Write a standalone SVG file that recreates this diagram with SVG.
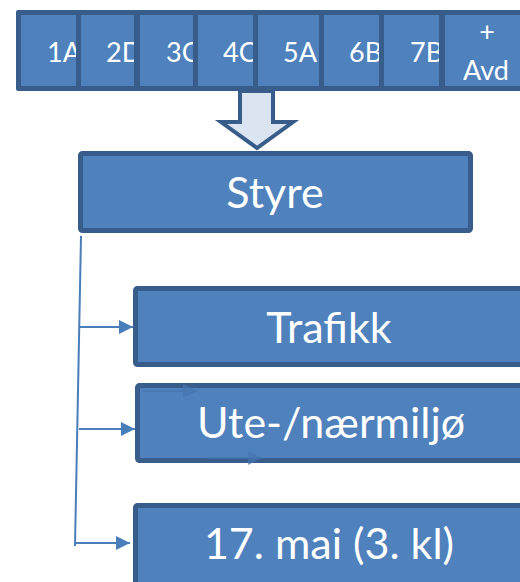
<svg xmlns="http://www.w3.org/2000/svg" width="520" height="582" viewBox="0 0 520 582">
<style>
.cell{fill:#4f81bd}
.ct{font-family:Lato,"Liberation Sans",sans-serif;font-size:27px;fill:#fff}
.box{fill:#4f81bd;stroke:#385d8a;stroke-width:5}
.bt{font-family:Lato,"Liberation Sans",sans-serif;font-size:43px;fill:#fff;text-anchor:middle}
.conn{stroke:#4a7ebb;stroke-width:2;fill:none}
.ghost{stroke:#4676b2;stroke-width:2;fill:none}
</style>
<defs>
<marker id="ah" markerUnits="userSpaceOnUse" markerWidth="14" markerHeight="14" refX="14" refY="7" orient="auto"><path d="M0,0 L14,7 L0,14 z" fill="#4a7ebb"/></marker>
<marker id="gh" markerUnits="userSpaceOnUse" markerWidth="14" markerHeight="14" refX="14" refY="7" orient="auto"><path d="M0,0 L14,7 L0,14 z" fill="#4676b2"/></marker>
<clipPath id="c1"><rect x="21" y="15" width="55" height="71"/></clipPath>
<clipPath id="c2"><rect x="81" y="15" width="53" height="71"/></clipPath>
<clipPath id="c3"><rect x="140" y="15" width="53" height="71"/></clipPath>
<clipPath id="c4"><rect x="198" y="15" width="55" height="71"/></clipPath>
<clipPath id="c5"><rect x="258" y="15" width="61" height="71"/></clipPath>
<clipPath id="c6"><rect x="324" y="15" width="55" height="71"/></clipPath>
<clipPath id="c7"><rect x="384" y="15" width="55" height="71"/></clipPath>
</defs>
<rect width="520" height="582" fill="#fff"/>
<g id="classes">
<rect x="16" y="10" width="520" height="81" rx="2" fill="#385d8a"/>
<g id="c1A"><rect class="cell" x="21" y="15" width="55" height="71"/><text class="ct" x="47" y="62" clip-path="url(#c1)">1A</text></g>
<g id="c2D"><rect class="cell" x="81" y="15" width="53" height="71"/><text class="ct" x="106" y="62" clip-path="url(#c2)">2D</text></g>
<g id="c3C"><rect class="cell" x="140" y="15" width="53" height="71"/><text class="ct" x="166" y="62" clip-path="url(#c3)">3C</text></g>
<g id="c4C"><rect class="cell" x="198" y="15" width="55" height="71"/><text class="ct" x="223" y="62" clip-path="url(#c4)">4C</text></g>
<g id="c5A"><rect class="cell" x="258" y="15" width="61" height="71"/><text class="ct" x="283" y="62" clip-path="url(#c5)">5A</text></g>
<g id="c6B"><rect class="cell" x="324" y="15" width="55" height="71"/><text class="ct" x="349" y="62" clip-path="url(#c6)">6B</text></g>
<g id="c7B"><rect class="cell" x="384" y="15" width="55" height="71"/><text class="ct" x="410" y="62" clip-path="url(#c7)">7B</text></g>
<g id="cAvd"><rect class="cell" x="445" y="15" width="90" height="71"/><text class="ct" x="487" y="41" text-anchor="middle">+</text><text class="ct" x="486" y="80" text-anchor="middle">Avd</text></g>
</g>
<g id="bigArrow"><path d="M240,91 V122 H221 L257,148 L293,122 H273 V91 Z" fill="#dbe5f1" stroke="#385d8a" stroke-width="4" stroke-linejoin="miter"/></g>
<g id="styre"><rect class="box" x="80.5" y="153.5" width="390" height="77" rx="2"/><text class="bt" x="275" y="208">Styre</text></g>
<g id="trafikk"><rect class="box" x="135.5" y="288.5" width="395" height="76" rx="2"/><text class="bt" x="329" y="343">Trafikk</text></g>
<g id="ute"><rect class="box" x="137.5" y="385.5" width="395" height="75" rx="2"/><text class="bt" x="331" y="438">Ute-/nærmiljø</text>
<path class="ghost" d="M143,391 H197" marker-end="url(#gh)" opacity="0.7"/>
<path class="ghost" d="M207,458 H262" marker-end="url(#gh)" opacity="0.7"/></g>
<g id="mai"><rect class="box" x="135.5" y="505.5" width="395" height="80" rx="2"/><text class="bt" x="329" y="559">17. mai (3. kl)</text></g>
<g id="connectors">
<path class="conn" d="M81,236 L75,546"/>
<path class="conn" d="M80,327 H133" marker-end="url(#ah)"/>
<path class="conn" d="M79,429 H135" marker-end="url(#ah)"/>
<path class="conn" d="M75,543 H130" marker-end="url(#ah)"/>
</g>
</svg>
